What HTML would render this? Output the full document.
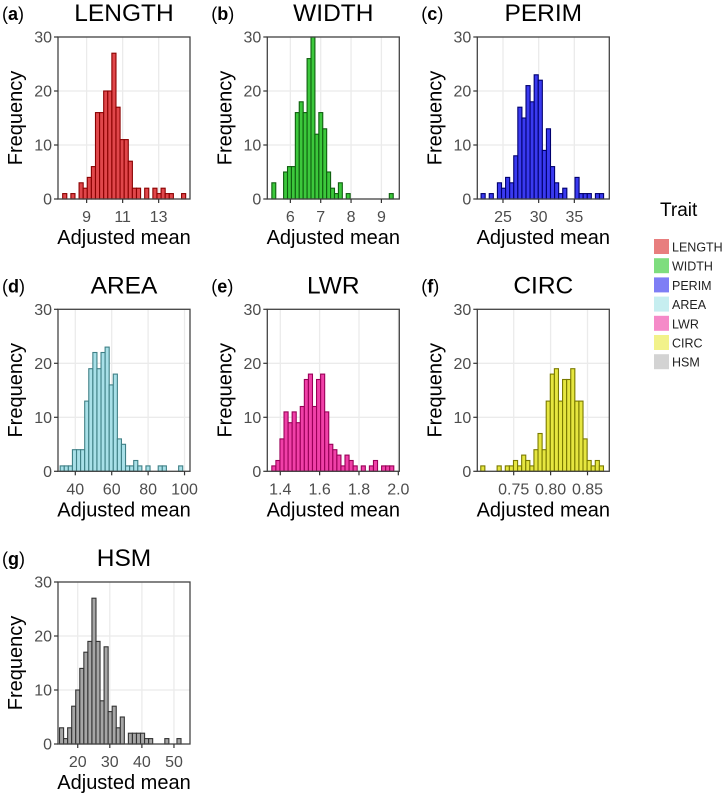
<!DOCTYPE html>
<html><head><meta charset="utf-8">
<style>
body{margin:0;background:#fff;}
svg{display:block;font-family:"Liberation Sans",Arial,sans-serif;}
</style></head>
<body>
<svg id="chart" width="725" height="798" viewBox="0 0 725 798"></svg>
<script>
const traitNames = ["LENGTH","WIDTH","PERIM","AREA","LWR","CIRC","HSM"];
const panelLetters = ["a","b","c","d","e","f","g"];
const lengthCounts = [1,0,1,0,3,2,4,6,16,16,20,20,27,17,11,11,7,2,2,0,2,0,2,1,2,1,1,0,0,1];
const widthCounts = [3,0,0,5,6,6,16,18,16,26,30,12,16,13,5,2,1,3,0,1,0,0,0,0,0,0,0,0,0,0,1];
const perimCounts = [1,0,1,0,3,2,4,3,8,17,15,21,18,23,22,9,13,6,3,1,2,0,0,4,1,1,1,0,1,1];
const areaCounts = [1,1,1,4,4,4,13,19,22,19,22,23,16,18,6,5,1,1,2,1,0,1,0,0,1,1,0,0,0,1];
const lwrCounts = [1,2,6,11,9,11,9,12,17,18,12,17,18,11,5,4,3,1,3,2,1,0,1,0,1,2,0,1,1,1];
const circCounts = [1,0,0,0,1,0,1,1,2,1,3,2,1,4,7,4,13,18,19,13,17,17,19,13,13,6,2,1,2,1];
const hsmCounts = [3,1,3,7,10,14,17,19,27,19,8,18,6,7,3,5,0,2,2,2,2,1,1,0,0,0,1,0,0,1];
const binStarts = [7.67,5.39,21.93,31.7,1.357,0.7054,14.33];
const binEnds = [14.5,9.39,39.1,99,1.977,0.8716,52.2];
const xMins = [7.41,5.24,21.4,30.5,1.334,0.7007,13.85];
const xMaxs = [14.74,9.59,39.9,103,2.005,0.8795,55.0];
const xTicks = [[9,11,13],[6,7,8,9],[25,30,35],[40,60,80,100],[1.4,1.6,1.8,2.0],[0.75,0.80,0.85],[20,30,40,50]];
const xTickLabels = [["9","11","13"],["6","7","8","9"],["25","30","35"],["40","60","80","100"],["1.4","1.6","1.8","2.0"],["0.75","0.80","0.85"],["20","30","40","50"]];
const yTicks = [0,10,20,30];
const allCounts = [lengthCounts,widthCounts,perimCounts,areaCounts,lwrCounts,circCounts,hsmCounts];
const fills = ["#e0474b","#3cc83c","#3a3af0","#a8e0e8","#f040a8","#e6e640","#a6a6a6"];
const strokes = ["#8b0000","#0f5f0f","#00006e","#3f8086","#9a0058","#7a7a00","#333333"];
const legendColors = ["#e87e7e","#7edd7e","#7e7ef5","#c6eef0","#f58ac8","#f2f28a","#d3d3d3"];

const NS="http://www.w3.org/2000/svg";
const svg=document.getElementById('chart');
function mk(tag,attrs,parent,text){const e=document.createElementNS(NS,tag);for(const k in attrs)e.setAttribute(k,attrs[k]);if(text!==undefined)e.textContent=text;(parent||svg).appendChild(e);return e;}

const colX=[58,267.3,477.3], rowY=[37,309.3,582], PW=132, PH=162;
for(let p=0;p<7;p++){
  const x0=colX[p%3], y0=rowY[Math.floor(p/3)];
  const g=mk('g',{});
  
  
  const sx=v=>x0+(v-xMins[p])/(xMaxs[p]-xMins[p])*PW;
  const sy=v=>y0+PH-v/30*PH;
  yTicks.forEach(t=>{const l=mk('line',{x1:x0,x2:x0+PW,y1:sy(t),y2:sy(t),stroke:'#ebebeb','stroke-width':1.3},g);
    });
  xTicks[p].forEach(t=>{const l=mk('line',{x1:sx(t),x2:sx(t),y1:y0,y2:y0+PH,stroke:'#ebebeb','stroke-width':1.3},g);
    });
  const counts=allCounts[p], bw=(binEnds[p]-binStarts[p])/counts.length;
  counts.forEach((c,i)=>{ if(c<=0) return;
    const a=binStarts[p]+i*bw;
    const r=mk('rect',{x:sx(a),y:sy(c),width:sx(a+bw)-sx(a),height:sy(0)-sy(c),fill:fills[p],stroke:strokes[p],'stroke-width':1.1},g);
    });
  const b=mk('rect',{x:x0,y:y0,width:PW,height:PH,fill:'none',stroke:'#444','stroke-width':1.3},g);
  
  yTicks.forEach(t=>{mk('line',{x1:x0-4,x2:x0,y1:sy(t),y2:sy(t),stroke:'#333','stroke-width':1.2},g);
    const tx=mk('text',{x:x0-6,y:sy(t)+5.5,'text-anchor':'end','font-size':16,fill:'#4d4d4d'},g,String(t));
    });
  xTicks[p].forEach((t,i)=>{mk('line',{x1:sx(t),x2:sx(t),y1:y0+PH,y2:y0+PH+4,stroke:'#333','stroke-width':1.2},g);
    const tx=mk('text',{x:sx(t),y:y0+PH+23,'text-anchor':'middle','font-size':16,fill:'#4d4d4d'},g,xTickLabels[p][i]);
    });
  const xt=mk('text',{x:x0+PW/2,y:y0+PH+45,'text-anchor':'middle','font-size':20,fill:'#000'},g,'Adjusted mean');
  
  const yt=mk('text',{x:0,y:0,'text-anchor':'middle','font-size':20,fill:'#000',transform:`translate(${x0-36},${y0+PH/2}) rotate(-90)`},g,'Frequency');
  
  const tt=mk('text',{x:x0+PW/2,y:y0-16,'text-anchor':'middle','font-size':24.5,fill:'#000'},g,traitNames[p]);
  
  const pl=mk('text',{x:x0-56,y:y0-17,'font-size':18,fill:'#000'},g);
  
  mk('tspan',{},pl,'(');mk('tspan',{'font-weight':'bold'},pl,panelLetters[p]);mk('tspan',{},pl,')');
}
const lg=mk('g',{});


const lt=mk('text',{x:660,y:216,'font-size':19,fill:'#000'},lg,'Trait');

traitNames.forEach((n,i)=>{
  const y=239+i*19.2;
  const e=mk('g',{},lg);
  
  
  mk('rect',{x:654,y:y,width:15,height:15,fill:legendColors[i]},e);
  mk('text',{x:672,y:y+12.5,'font-size':12.5,fill:'#222'},e,n);
});
</script>
</body></html>
